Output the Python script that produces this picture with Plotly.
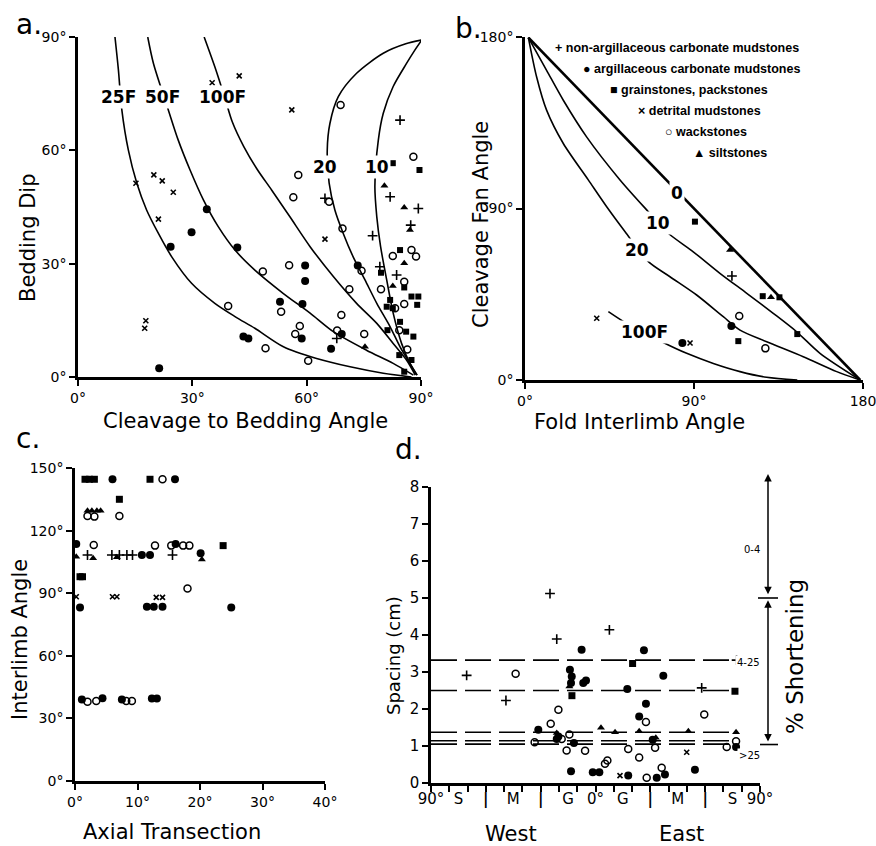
import plotly.graph_objects as go

W, H = 876, 846
FONT = "DejaVu Sans"

# ---------------- Panel a data ----------------
a_25F_x = [9.7, 10.6, 11.5, 13.2, 15.4, 18.0, 21.1, 24.6, 29.8, 35.9, 41.2, 46.4, 53.9, 62.6, 71.4, 80.1, 87.5]
a_25F_y = [90.0, 81.3, 70.7, 60.1, 51.4, 44.2, 38.0, 31.8, 24.8, 19.5, 16.0, 12.9, 8.0, 4.9, 2.7, 1.0, 0.0]
a_50F_x = [18.3, 19.8, 23.7, 26.3, 29.4, 32.9, 36.8, 41.2, 46.4, 53.9, 60.9, 67.0, 75.7, 82.7, 88.0]
a_50F_y = [90.0, 83.0, 70.7, 62.7, 54.8, 46.9, 39.8, 33.6, 28.3, 22.1, 16.9, 12.0, 7.1, 3.6, 0.5]
a_100F_x = [33.1, 35.9, 38.5, 40.5, 43.5, 47.0, 50.8, 55.6, 60.9, 67.0, 73.1, 78.4, 82.7, 86.2, 88.5]
a_100F_y = [90.0, 82.1, 74.0, 67.5, 61.0, 55.0, 49.5, 42.4, 34.5, 26.6, 19.5, 14.2, 8.9, 4.5, 0.5]
a_20_x = [90.2, 86.0, 80.1, 73.1, 68.3, 66.1, 65.4, 65.9, 67.4, 69.6, 72.2, 75.3, 78.4, 81.9, 84.5, 87.1, 88.9]
a_20_y = [89.2, 88.2, 85.7, 80.4, 74.2, 67.1, 60.1, 51.3, 44.2, 38.0, 31.8, 25.7, 19.5, 13.3, 8.0, 3.6, 0.5]
a_10_x = [90.2, 88.3, 86.2, 82.7, 80.1, 78.8, 77.9, 78.4, 79.4, 81.0, 82.7, 84.9, 87.1, 89.0]
a_10_y = [89.2, 86.4, 83.0, 76.9, 69.8, 62.7, 50.4, 42.4, 34.5, 25.7, 16.9, 8.9, 3.6, 0.5]

a_plus_x = [84.5, 81.9, 77.3, 79.2, 83.6, 89.3, 64.8, 87.3, 67.9]
a_plus_y = [68.0, 47.7, 37.4, 29.2, 27.0, 44.6, 47.3, 40.2, 10.2]
a_dot_x = [21.3, 24.3, 29.8, 33.8, 41.8, 43.4, 44.7, 53.0, 59.6, 59.6, 58.9, 58.7, 66.4, 69.2, 73.4]
a_dot_y = [2.3, 34.5, 38.3, 44.4, 34.3, 10.7, 10.2, 19.9, 29.5, 25.4, 19.3, 10.2, 7.5, 11.4, 29.5]
a_sq_x = [82.6, 89.6, 84.5, 79.5, 85.6, 81.9, 82.6, 81.0, 87.5, 89.3, 81.2, 84.5, 86.1, 88.0, 84.3, 87.5, 85.6, 89.0]
a_sq_y = [56.6, 54.8, 33.6, 27.6, 23.7, 20.4, 18.2, 18.6, 21.3, 21.3, 12.4, 14.6, 12.0, 10.7, 5.8, 4.5, 1.4, 19.1]
a_x_x = [35.2, 42.3, 56.1, 15.2, 19.9, 22.1, 25.0, 21.1, 17.8, 17.5, 64.8]
a_x_y = [77.9, 79.7, 70.7, 51.3, 53.5, 51.9, 48.9, 41.8, 14.9, 12.9, 36.5]
a_open_x = [68.9, 57.8, 56.5, 65.9, 69.4, 55.4, 48.5, 74.4, 71.2, 39.4, 53.3, 58.2, 57.0, 49.2,
            60.4, 69.1, 68.0, 75.1, 79.5, 82.6, 87.5, 88.7, 85.6, 85.6, 83.2, 84.3, 86.4, 88.0]
a_open_y = [72.0, 53.5, 47.6, 46.4, 39.3, 29.6, 27.9, 28.1, 23.2, 18.8, 17.3, 13.5, 11.4, 7.6,
            4.3, 16.4, 12.3, 11.4, 23.2, 32.0, 33.6, 31.9, 25.2, 19.3, 18.2, 12.4, 7.3, 58.3]
a_tri_x = [80.4, 85.6, 87.1, 85.6, 82.6, 75.3]
a_tri_y = [50.6, 44.9, 38.9, 30.1, 24.1, 8.0]
a_ticks = [0, 30, 60, 90]
a_ticktext = ["0°", "30°", "60°", "90°"]

# ---------------- Panel b data ----------------
b_0_x = [1.8, 178.5]
b_0_y = [179.7, 0.0]
b_10_x = [1.8, 11.5, 20.4, 32.8, 50.6, 65.7, 76.3, 89.6, 103.8, 118.1, 132.2, 144.7, 157.1, 178.5]
b_10_y = [179.7, 162.5, 146.8, 127.6, 105.0, 88.3, 77.0, 67.3, 56.0, 45.5, 35.0, 25.3, 14.0, 0.0]
b_20_x = [1.8, 6.2, 11.5, 20.4, 33.7, 43.5, 53.3, 65.7, 77.2, 91.4, 105.6, 114.5, 128.7, 148.2, 166.0, 178.5]
b_20_y = [179.7, 159.0, 141.6, 124.1, 105.0, 90.9, 77.8, 62.1, 54.2, 44.6, 33.2, 26.2, 20.1, 12.2, 4.4, 0.0]
b_100F_x = [44.4, 54.1, 72.8, 86.1, 100.3, 114.5, 128.7, 145.0]
b_100F_y = [35.9, 29.7, 20.1, 14.0, 8.7, 4.4, 1.4, 0.0]
b_sq_x = [90.5, 126.6, 135.5, 145.0, 113.6]
b_sq_y = [83.1, 44.0, 43.4, 24.1, 20.4]
b_tri_x = [109.2, 131.0]
b_tri_y = [68.2, 43.4]
b_plus_x = [110.2]
b_plus_y = [54.6]
b_open_x = [114.1, 128.0]
b_open_y = [33.6, 16.6]
b_dot_x = [109.9, 83.8]
b_dot_y = [28.3, 19.4]
b_x_x = [87.9, 38.2]
b_x_y = [19.4, 32.4]
b_ticks = [0, 90, 180]
b_xticktext = ["0°", "90°", "180"]
b_yticktext = ["0°", "90°", "180°"]
legend_labels = ["+ non-argillaceous carbonate mudstones", "● argillaceous carbonate mudstones",
                 "■ grainstones, packstones", "× detrital mudstones", "○ wackstones", "▲ siltstones"]

# ---------------- Panel c data ----------------
c_sq_x = [1.6, 2.3, 3.1, 12.0, 7.1, 23.7, 0.8, 1.2]
c_sq_y = [144.6, 144.6, 144.6, 144.6, 135.0, 112.8, 97.9, 97.9]
c_dot_x = [6.0, 16.0, 0.2, 16.1, 10.7, 12.0, 20.1, 0.8, 11.5, 12.6, 14.0, 25.0, 1.1, 4.4, 7.5, 12.3, 13.1]
c_dot_y = [144.6, 144.6, 113.6, 113.6, 108.3, 108.3, 109.1, 83.2, 83.5, 83.5, 83.5, 83.2, 39.1, 39.6, 39.1, 39.5, 39.5]
c_open_x = [14.0, 2.0, 3.1, 7.1, 3.0, 12.8, 15.4, 17.3, 18.3, 18.0, 2.0, 3.4, 8.2, 9.1]
c_open_y = [144.6, 127.0, 126.7, 127.0, 113.1, 112.8, 112.8, 112.8, 112.8, 92.3, 38.0, 38.3, 38.3, 38.3]
c_tri_x = [2.0, 2.7, 3.5, 4.1, 0.2, 2.9, 6.7, 20.3]
c_tri_y = [129.5, 129.5, 129.5, 129.5, 107.5, 106.7, 107.2, 106.2]
c_plus_x = [2.0, 5.9, 7.1, 8.3, 9.2, 15.6]
c_plus_y = [108.3, 108.3, 108.3, 108.3, 108.3, 108.3]
c_x_x = [0.2, 6.0, 6.7, 13.0, 14.0]
c_x_y = [88.3, 88.3, 88.3, 88.0, 88.0]
c_xticks = [0, 10, 20, 30, 40]
c_xticktext = ["0°", "10°", "20°", "30°", "40°"]
c_yticks = [0, 30, 60, 90, 120, 150]
c_yticktext = ["0°", "30°", "60°", "90°", "120°", "150°"]

# ---------------- Panel d data ----------------
d_plus_x = [-24.9, -21.2, 7.6, -70.5, -49.0, 58.1, 77.2]
d_plus_y = [5.12, 3.89, 4.14, 2.91, 2.23, 2.57, 3.32]
d_open_x = [-43.7, -20.3, -24.5, -33.3, 59.5, 27.6, 23.9, 17.9, -5.7, -15.8, -14.3, -18.5, 6.5, 5.2,
            28.0, 32.6, 36.2, 71.8, 76.9]
d_open_y = [2.95, 1.98, 1.60, 1.10, 1.85, 1.65, 0.69, 0.92, 0.87, 0.88, 1.31, 1.19, 0.61, 0.52,
            0.14, 0.95, 0.41, 0.97, 1.13]
d_dot_x = [-7.6, 26.5, 37.1, -14.0, -13.0, -13.4, -6.7, -5.2, 17.4, 27.6, 23.9, -31.3, -21.2, -20.3,
           -11.8, -13.4, -1.5, 2.1, 17.9, 33.5, 38.0, 54.4, 76.9, 31.3]
d_dot_y = [3.60, 3.59, 2.90, 3.06, 2.88, 2.70, 2.70, 2.77, 2.54, 2.14, 1.80, 1.44, 1.19, 1.26,
           1.08, 0.32, 0.29, 0.29, 0.20, 0.14, 0.23, 0.36, 0.97, 1.17]
d_sq_x = [20.3, 76.3, -12.9]
d_sq_y = [3.23, 2.48, 2.36]
d_tri_x = [3.0, 10.7, 23.9, 33.0, 50.8, 76.9, -21.2, -14.3]
d_tri_y = [1.49, 1.37, 1.40, 1.22, 1.40, 1.37, 1.35, 2.61]
d_x_x = [13.4, 49.9]
d_x_y = [0.20, 0.83]
d_levels = [3.32, 2.5, 1.37, 1.14, 1.05]
d_level_x = [-90, 77]
d_xticks = [-90, -75, -60, -45, -30, -15, 0, 15, 30, 45, 60, 75, 90]
d_xticktext = ["90°", "S", "<b>|</b>", "M", "<b>|</b>", "G", "0°", "G", "<b>|</b>", "M", "<b>|</b>", "S", "90°"]
d_minor = list(range(-90, 91, 10))
d_yticks = [0, 1, 2, 3, 4, 5, 6, 7, 8]
d_shortening_bounds = [8.35, 5.0, 1.04]
d_shortening_labels = ["0-4", "4-25", ">25"]
d_shortening_label_y = [6.3, 3.06, 0.54]

# ---------------- layout geometry (pixels) ----------------
def dom_x(p0, p1):
    return [p0 / W, p1 / W]

def dom_y(top, bottom):
    return [1 - bottom / H, 1 - top / H]

fig = go.Figure()

def pts(x, y, sym, xa, ya, size, lw=1.5):
    fig.add_trace(go.Scatter(x=x, y=y, mode="markers", xaxis=xa, yaxis=ya, cliponaxis=False,
                             hoverinfo="skip",
                             marker=dict(symbol=sym, size=size, color="black",
                                         line=dict(color="black", width=lw))))

def curve(x, y, xa, ya, w=1.6, dash="solid", shape="spline", smoothing=0.8):
    fig.add_trace(go.Scatter(x=x, y=y, mode="lines", xaxis=xa, yaxis=ya, hoverinfo="skip",
                             cliponaxis=False,
                             line=dict(color="black", width=w, dash=dash, shape=shape, smoothing=smoothing)))

# Panel a
for cx, cy in [(a_25F_x, a_25F_y), (a_50F_x, a_50F_y), (a_100F_x, a_100F_y), (a_20_x, a_20_y), (a_10_x, a_10_y)]:
    curve(cx, cy, "x", "y")
pts(a_open_x, a_open_y, "circle-open", "x", "y", 7)
pts(a_dot_x, a_dot_y, "circle", "x", "y", 8, 0)
pts(a_sq_x, a_sq_y, "square", "x", "y", 6, 0)
pts(a_tri_x, a_tri_y, "triangle-up", "x", "y", 7, 0)
pts(a_plus_x, a_plus_y, "cross-thin", "x", "y", 7, 1.6)
pts(a_x_x, a_x_y, "x-thin", "x", "y", 5, 1.6)

# Panel b
curve(b_0_x, b_0_y, "x2", "y2", w=2.6, shape="linear")
curve(b_10_x, b_10_y, "x2", "y2")
curve(b_20_x, b_20_y, "x2", "y2")
curve(b_100F_x, b_100F_y, "x2", "y2")
pts(b_open_x, b_open_y, "circle-open", "x2", "y2", 7)
pts(b_dot_x, b_dot_y, "circle", "x2", "y2", 8, 0)
pts(b_sq_x, b_sq_y, "square", "x2", "y2", 6, 0)
pts(b_tri_x, b_tri_y, "triangle-up", "x2", "y2", 7, 0)
pts(b_plus_x, b_plus_y, "cross-thin", "x2", "y2", 7, 1.6)
pts(b_x_x, b_x_y, "x-thin", "x2", "y2", 5, 1.6)

# Panel c
pts(c_open_x, c_open_y, "circle-open", "x3", "y3", 7)
pts(c_dot_x, c_dot_y, "circle", "x3", "y3", 8, 0)
pts(c_sq_x, c_sq_y, "square", "x3", "y3", 7, 0)
pts(c_tri_x, c_tri_y, "triangle-up", "x3", "y3", 7, 0)
pts(c_plus_x, c_plus_y, "cross-thin", "x3", "y3", 7, 1.6)
pts(c_x_x, c_x_y, "x-thin", "x3", "y3", 5, 1.6)

# Panel d
for lv in d_levels:
    curve(d_level_x, [lv, lv], "x4", "y4", w=1.6, dash="26px,8px", shape="linear")
pts(d_open_x, d_open_y, "circle-open", "x4", "y4", 7)
pts(d_dot_x, d_dot_y, "circle", "x4", "y4", 8, 0)
pts(d_sq_x, d_sq_y, "square", "x4", "y4", 7, 0)
pts(d_tri_x, d_tri_y, "triangle-up", "x4", "y4", 7, 0)
pts(d_plus_x, d_plus_y, "cross-thin", "x4", "y4", 7, 1.6)
pts(d_x_x, d_x_y, "x-thin", "x4", "y4", 5, 1.6)

ax_common = dict(showgrid=False, zeroline=False, showline=True, linecolor="black", linewidth=2.5,
                 ticks="outside", ticklen=6, tickwidth=2, tickcolor="black", automargin=False,
                 ticklabeloverflow="allow",
                 tickfont=dict(family=FONT, size=14, color="black"), tickmode="array")

fig.update_layout(
    width=W, height=H, margin=dict(l=0, r=0, t=0, b=0, autoexpand=False),
    paper_bgcolor="white", plot_bgcolor="white", showlegend=False,
    font=dict(family=FONT, color="black"),
    xaxis=dict(ax_common, domain=dom_x(78, 421), range=[0, 90], anchor="y",
               tickvals=a_ticks, ticktext=a_ticktext),
    yaxis=dict(ax_common, domain=dom_y(37, 377), range=[0, 90], anchor="x",
               tickvals=a_ticks, ticktext=a_ticktext),
    yaxis5=dict(ax_common, overlaying="y", side="right", anchor="x", range=[0, 90],
                tickvals=a_ticks, ticktext=a_ticktext),
    xaxis2=dict(ax_common, domain=dom_x(525, 863), range=[0, 180], anchor="y2",
                tickvals=b_ticks, ticktext=b_xticktext),
    yaxis2=dict(ax_common, domain=dom_y(37, 380), range=[0, 180], anchor="x2",
                tickvals=b_ticks, ticktext=b_yticktext),
    xaxis3=dict(ax_common, domain=dom_x(75, 325), range=[0, 40], anchor="y3",
                tickvals=c_xticks, ticktext=c_xticktext),
    yaxis3=dict(ax_common, domain=dom_y(468, 781), range=[0, 150], anchor="x3",
                tickvals=c_yticks, ticktext=c_yticktext),
    xaxis4=dict(ax_common, domain=dom_x(431, 760), range=[-90, 90], anchor="y4",
                tickvals=d_xticks, ticktext=d_xticktext, ticks="",
                tickfont=dict(family=FONT, size=15, color="black"),
                minor=dict(tickvals=d_minor, ticks="outside", ticklen=6, tickwidth=2,
                           tickcolor="black", showgrid=False)),
    yaxis4=dict(ax_common, domain=dom_y(487, 783), range=[0, 8], anchor="x4",
                tickfont=dict(family=FONT, size=15, color="black"),
                tickvals=d_yticks, ticktext=[str(v) for v in d_yticks]),
)

ann = []

def text(x, y, s, size=20, xref="paper", yref="paper", angle=0, xanchor="center", bg=None, bold=False):
    a = dict(x=x, y=y, xref=xref, yref=yref, text=("<b>%s</b>" % s) if bold else s,
             showarrow=False, textangle=angle, xanchor=xanchor, yanchor="middle",
             font=dict(family=FONT, size=size, color="black"))
    if bg:
        a["bgcolor"] = bg
        a["borderpad"] = 1
    ann.append(a)

def px(xp, yp):
    return xp / W, 1 - yp / H

# panel letters
for lab, (xp, yp) in [("a.", (29, 24)), ("b.", (468, 28)), ("c.", (28, 438)), ("d.", (408, 449))]:
    X, Y = px(xp, yp)
    text(X, Y, lab, size=28)

# axis titles
X, Y = px(28, 238); text(X, Y, "Bedding Dip", 21, angle=-90)
X, Y = px(245, 421); text(X, Y, "Cleavage to Bedding Angle", 21)
X, Y = px(481, 225); text(X, Y, "Cleavage Fan Angle", 21, angle=-90)
X, Y = px(639, 422); text(X, Y, "Fold Interlimb Angle", 21)
X, Y = px(20, 640); text(X, Y, "Interlimb Angle", 21, angle=-90)
X, Y = px(172, 832); text(X, Y, "Axial Transection", 21)
X, Y = px(393, 656); text(X, Y, "Spacing (cm)", 18, angle=-90)
X, Y = px(511, 834); text(X, Y, "West", 21)
X, Y = px(681, 834); text(X, Y, "East", 21)
X, Y = px(795, 657); text(X, Y, "% Shortening", 23, angle=-90)

# curve labels panel a
for s, x, y in [("25F", 10.6, 74.2), ("50F", 22.1, 74.2), ("100F", 38.0, 74.2), ("20", 64.8, 55.7), ("10", 78.4, 55.7)]:
    text(x, y, s, 17, xref="x", yref="y", bg="white", bold=True)
# curve labels panel b
for s, x, y in [("0", 80.8, 98.0), ("10", 71.0, 82.2), ("20", 59.6, 68.2), ("100F", 63.9, 25.4)]:
    text(x, y, s, 17, xref="x2", yref="y2", bg="white", bold=True)

# legend panel b
for i, s in enumerate(legend_labels):
    X, Y = px(553 + 27.5 * i, 48 + 21 * i)
    a = dict(x=X, y=Y, xref="paper", yref="paper", text="<b>%s</b>" % s, showarrow=False,
             xanchor="left", yanchor="middle", font=dict(family="Liberation Sans", size=12.5, color="black"))
    ann.append(a)

# shortening scale panel d
ya0, ya1 = dom_y(487, 783)
def dy(v):
    return ya0 + v / 8.0 * (ya1 - ya0)

xa = 768 / W
def double_arrow(v_top, v_bot):
    head = dy(v_top)
    tail = dy(v_bot)
    ann.append(dict(x=xa, y=head, xref="paper", yref="paper", ax=0, ay=(head - tail) * H,
                    axref="pixel", ayref="pixel", showarrow=True, arrowhead=2, arrowcolor="black",
                    arrowside="end+start", arrowwidth=1.5, arrowsize=1, text=""))

double_arrow(d_shortening_bounds[0], d_shortening_bounds[1] + 0.06)
double_arrow(d_shortening_bounds[1] - 0.06, d_shortening_bounds[2] + 0.04)
for lab, yv in zip(d_shortening_labels, d_shortening_label_y):
    ann.append(dict(x=762 / W, y=dy(yv), xref="paper", yref="paper", text=lab, showarrow=False,
                    bgcolor="white", font=dict(family=FONT, size=10, color="black")))

shapes = []
for yv, x0, x1 in [(d_shortening_bounds[1], 758, 778), (d_shortening_bounds[2], 760, 778)]:
    shapes.append(dict(type="line", xref="paper", yref="paper", x0=x0 / W, x1=x1 / W,
                       y0=dy(yv), y1=dy(yv), line=dict(color="black", width=1.6)))

fig.update_layout(annotations=ann, shapes=shapes)
fig.write_html("out.html", config={"displayModeBar": False},
               post_script="document.body.style.margin='0px';document.body.style.padding='0px';")
